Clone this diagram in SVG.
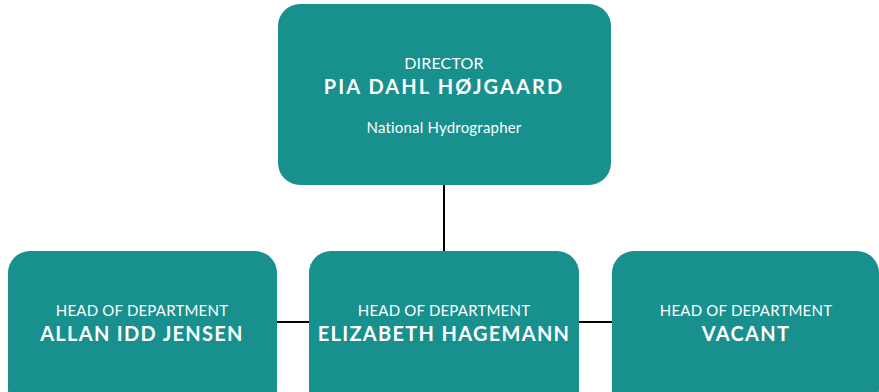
<svg xmlns="http://www.w3.org/2000/svg" width="879" height="392" viewBox="0 0 879 392">
<style>
.box{fill:#17908E;}
.t{font-family:Lato,"Open Sans","Liberation Sans",sans-serif;fill:#ffffff;text-anchor:middle;}
.role{font-size:15px;letter-spacing:0.2px;}
.name{font-size:20px;font-weight:bold;letter-spacing:1.3px;}
.top{letter-spacing:2.1px;}
.sub{font-size:15px;letter-spacing:0.2px;}
.conn{stroke:#000000;stroke-width:2;fill:none;}
</style>
<rect width="879" height="392" fill="#ffffff"/>
<g id="connectors">
<line class="conn" x1="444" y1="185" x2="444" y2="252"/>
<line class="conn" x1="276" y1="322" x2="310" y2="322"/>
<line class="conn" x1="578" y1="322" x2="613" y2="322"/>
</g>
<g id="director">
<rect class="box" x="278" y="4" width="333" height="181" rx="22"/>
<text class="t role" x="444" y="69" style="font-size:16px">DIRECTOR</text>
<text class="t name top" x="444" y="94">PIA DAHL HØJGAARD</text>
<text class="t sub" x="444" y="133">National Hydrographer</text>
</g>
<g id="allan">
<rect class="box" x="8" y="251" width="269" height="160" rx="22"/>
<text class="t role" x="142" y="316">HEAD OF DEPARTMENT</text>
<text class="t name" x="142" y="341">ALLAN IDD JENSEN</text>
</g>
<g id="elizabeth">
<rect class="box" x="309" y="251" width="270" height="160" rx="22"/>
<text class="t role" x="444" y="316">HEAD OF DEPARTMENT</text>
<text class="t name" x="444" y="341">ELIZABETH HAGEMANN</text>
</g>
<g id="vacant">
<rect class="box" x="612" y="251" width="267" height="160" rx="22"/>
<text class="t role" x="746" y="316">HEAD OF DEPARTMENT</text>
<text class="t name" x="746" y="341">VACANT</text>
</g>
</svg>
